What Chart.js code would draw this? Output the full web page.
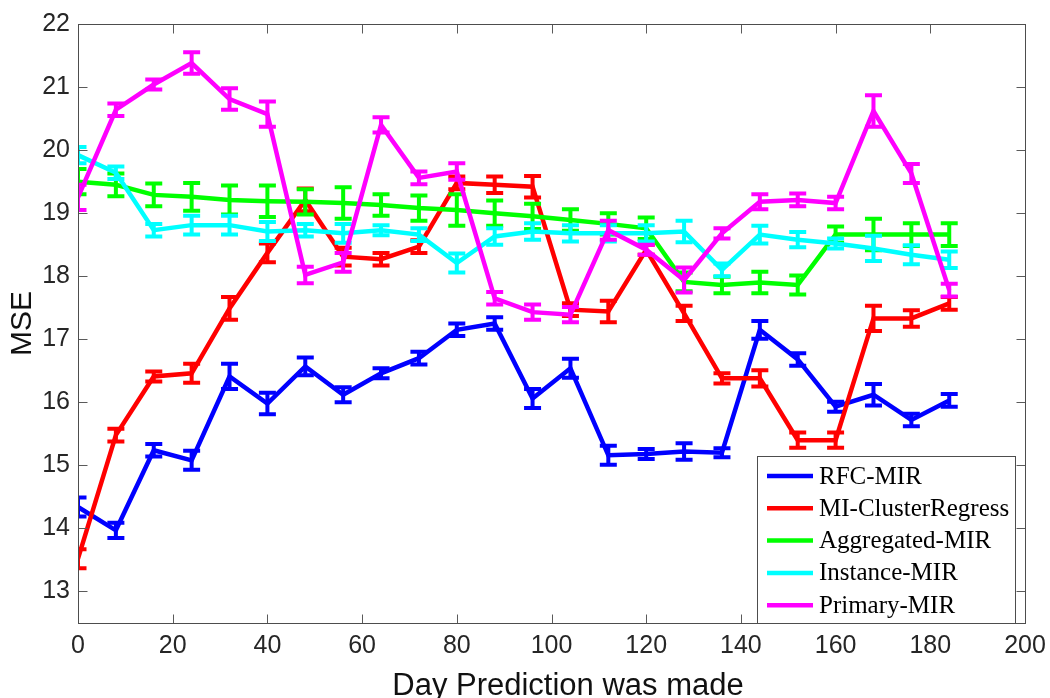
<!DOCTYPE html>
<html>
<head>
<meta charset="utf-8">
<script src="https://cdn.jsdelivr.net/npm/chart.js@4.4.0/dist/chart.umd.min.js"></script>
<style>
html, body { margin: 0; padding: 0; background: #fff; }
</style>
</head>
<body>
<canvas id="grafico" width="1050" height="698"></canvas>
<script>
// dias e valores
var dias = [0, 8, 16, 24, 32, 40, 48, 56, 64, 72, 80, 88, 96, 104, 112, 120, 128, 136, 144, 152, 160, 168, 176, 184]

var rfcMir = [14.34, 13.97, 15.24, 15.08, 16.41, 15.98, 16.57, 16.12, 16.46, 16.70, 17.15, 17.25, 16.06, 16.54, 15.16, 15.18, 15.22, 15.20, 17.15, 16.68, 15.93, 16.12, 15.72, 16.03]
var rfcErr = [0.15, 0.12, 0.10, 0.15, 0.20, 0.17, 0.14, 0.12, 0.08, 0.10, 0.10, 0.10, 0.15, 0.15, 0.15, 0.08, 0.13, 0.07, 0.14, 0.10, 0.08, 0.17, 0.10, 0.10]

var clusterRegress = [13.52, 15.48, 16.41, 16.46, 17.49, 18.37, 19.21, 18.31, 18.27, 18.47, 19.48, 19.45, 19.42, 17.47, 17.44, 18.42, 17.41, 16.38, 16.38, 15.40, 15.40, 17.33, 17.33, 17.57]
var clusterErr = [0.15, 0.10, 0.08, 0.15, 0.18, 0.15, 0.18, 0.14, 0.10, 0.10, 0.10, 0.13, 0.17, 0.10, 0.17, 0.08, 0.12, 0.08, 0.13, 0.12, 0.12, 0.20, 0.13, 0.10]

var aggregated = [19.50, 19.45, 19.29, 19.26, 19.21, 19.19, 19.18, 19.16, 19.13, 19.08, 19.05, 19.00, 18.95, 18.89, 18.83, 18.76, 17.91, 17.86, 17.90, 17.86, 18.66, 18.66, 18.66, 18.66]
var aggErr = [0.20, 0.18, 0.18, 0.22, 0.23, 0.25, 0.20, 0.25, 0.17, 0.20, 0.25, 0.20, 0.20, 0.17, 0.17, 0.17, 0.15, 0.13, 0.17, 0.15, 0.13, 0.25, 0.18, 0.18]

var instance = [19.92, 19.64, 18.73, 18.81, 18.81, 18.71, 18.73, 18.68, 18.73, 18.66, 18.21, 18.63, 18.71, 18.68, 18.68, 18.68, 18.71, 18.10, 18.66, 18.58, 18.52, 18.44, 18.34, 18.26]
var instErr = [0.13, 0.10, 0.10, 0.15, 0.15, 0.15, 0.10, 0.15, 0.08, 0.10, 0.15, 0.13, 0.13, 0.13, 0.13, 0.13, 0.17, 0.10, 0.14, 0.12, 0.08, 0.20, 0.15, 0.13]

var primary = [19.25, 20.64, 21.04, 21.38, 20.81, 20.57, 18.02, 18.22, 20.40, 19.56, 19.66, 17.65, 17.43, 17.39, 18.73, 18.42, 17.94, 18.68, 19.18, 19.21, 19.16, 20.62, 19.63, 17.78]
var primErr = [0.20, 0.10, 0.08, 0.17, 0.17, 0.20, 0.13, 0.15, 0.12, 0.10, 0.13, 0.10, 0.12, 0.12, 0.15, 0.08, 0.20, 0.08, 0.12, 0.10, 0.10, 0.25, 0.15, 0.10]

var nomes = ['RFC-MIR', 'MI-ClusterRegress', 'Aggregated-MIR', 'Instance-MIR', 'Primary-MIR']
var cores = ['#0000ff', '#ff0000', '#00ff00', '#00ffff', '#ff00ff']

var xTicks = [0, 20, 40, 60, 80, 100, 120, 140, 160, 180, 200]
var yTicks = [13, 14, 15, 16, 17, 18, 19, 20, 21, 22]

var tituloX = 'Day Prediction was made'
var tituloY = 'MSE'

var valores = [rfcMir, clusterRegress, aggregated, instance, primary]
var erros = [rfcErr, clusterErr, aggErr, instErr, primErr]

var corTexto = '#262626'
var fonteSans = '"Liberation Sans", Arial, sans-serif'

function pontos(serie) {
  return serie.map(function (v, i) { return { x: dias[i], y: v } })
}

var datasets = valores.map(function (serie, k) {
  return {
    label: nomes[k],
    data: pontos(serie),
    borderColor: cores[k],
    backgroundColor: cores[k],
    borderWidth: 4.5,
    pointRadius: 0,
    tension: 0,
    order: 5 - k,
    erro: erros[k]
  }
})

// barras de erro desenhadas logo depois de cada serie
var barrasErro = {
  id: 'barrasErro',
  afterDatasetDraw: function (chart, args) {
    var ds = chart.data.datasets[args.index]
    var ctx = chart.ctx
    var sx = chart.scales.x, sy = chart.scales.y
    var area = chart.chartArea
    ctx.save()
    ctx.beginPath()
    ctx.rect(area.left, area.top, area.right - area.left, area.bottom - area.top)
    ctx.clip()
    ctx.strokeStyle = ds.borderColor
    ctx.lineWidth = 4
    ctx.lineCap = 'butt'
    ds.data.forEach(function (p, i) {
      var px = sx.getPixelForValue(p.x)
      var y1 = sy.getPixelForValue(p.y - ds.erro[i])
      var y2 = sy.getPixelForValue(p.y + ds.erro[i])
      var w = 8.5
      ctx.beginPath()
      ctx.moveTo(px, y1); ctx.lineTo(px, y2)
      ctx.moveTo(px - w, y1); ctx.lineTo(px + w, y1)
      ctx.moveTo(px - w, y2); ctx.lineTo(px + w, y2)
      ctx.stroke()
    })
    ctx.restore()
  }
}

// caixa do eixo com marcas para dentro
var moldura = {
  id: 'moldura',
  afterDatasetsDraw: function (chart) {
    var ctx = chart.ctx
    var a = chart.chartArea
    var sx = chart.scales.x, sy = chart.scales.y
    var l = Math.round(a.left) + 0.5, r = Math.round(a.right) + 0.5
    var t = Math.round(a.top) + 0.5, b = Math.round(a.bottom) + 0.5
    ctx.save()
    ctx.strokeStyle = '#5a5a5a'
    ctx.lineWidth = 1
    ctx.beginPath()
    xTicks.forEach(function (v) {
      var px = Math.round(sx.getPixelForValue(v)) + 0.5
      ctx.moveTo(px, b); ctx.lineTo(px, b - 9)
      ctx.moveTo(px, t); ctx.lineTo(px, t + 9)
    })
    yTicks.forEach(function (v) {
      var py = Math.round(sy.getPixelForValue(v)) + 0.5
      ctx.moveTo(l, py); ctx.lineTo(l + 9, py)
      ctx.moveTo(r, py); ctx.lineTo(r - 9, py)
    })
    ctx.stroke()
    ctx.strokeStyle = '#4d4d4d'
    ctx.strokeRect(l, t, r - l, b - t)
    ctx.restore()
  }
}

// legenda dentro do grafico e titulo do eixo x
var legenda = {
  id: 'legenda',
  afterDraw: function (chart) {
    var ctx = chart.ctx
    var bx = 757.5, by = 456.5, bw = 258, bh = 167
    ctx.save()
    ctx.fillStyle = '#ffffff'
    ctx.fillRect(bx, by, bw, bh)
    ctx.strokeStyle = '#4d4d4d'
    ctx.lineWidth = 1
    ctx.strokeRect(bx, by, bw, bh)
    ctx.font = '25px "Liberation Serif", "Times New Roman", serif'
    ctx.textBaseline = 'middle'
    ctx.textAlign = 'left'
    nomes.forEach(function (n, k) {
      var yy = 476 + k * 32.3
      ctx.strokeStyle = cores[k]
      ctx.lineWidth = 4.5
      ctx.beginPath()
      ctx.moveTo(767, yy); ctx.lineTo(813, yy)
      ctx.stroke()
      ctx.fillStyle = '#000000'
      ctx.fillText(n, 819, yy + 1)
    })

    ctx.font = '31px ' + fonteSans
    ctx.fillStyle = '#111111'
    ctx.textAlign = 'center'
    ctx.textBaseline = 'alphabetic'
    ctx.fillText(tituloX, 568, 695)
    ctx.restore()
  }
}

function semPadding(s) {
  s.paddingLeft = 0
  s.paddingRight = 0
  s.paddingTop = 0
  s.paddingBottom = 0
}

var ctx = document.getElementById('grafico')

new Chart(ctx, {
  type: 'line',
  data: { datasets: datasets },
  plugins: [barrasErro, moldura, legenda],
  options: {
    responsive: false,
    animation: false,
    devicePixelRatio: 1,
    layout: { padding: { left: 0, top: 24, right: 25, bottom: 0 } },
    plugins: {
      legend: { display: false },
      tooltip: { enabled: false }
    },
    scales: {
      x: {
        type: 'linear',
        min: 0,
        max: 200,
        afterBuildTicks: function (s) { s.ticks = xTicks.map(function (v) { return { value: v } }) },
        afterFit: function (s) { s.height = 75; semPadding(s) },
        grid: { display: false, drawTicks: false },
        border: { display: false },
        ticks: {
          padding: 8,
          color: corTexto,
          font: { family: fonteSans, size: 25 }
        },
        title: { display: false }
      },
      y: {
        type: 'linear',
        min: 12.5,
        max: 22,
        afterBuildTicks: function (s) { s.ticks = yTicks.map(function (v) { return { value: v } }) },
        afterFit: function (s) { s.width = 78; semPadding(s) },
        grid: { display: false, drawTicks: false },
        border: { display: false },
        ticks: {
          padding: 8,
          color: corTexto,
          font: { family: fonteSans, size: 25 }
        },
        title: {
          display: true,
          text: tituloY,
          color: '#111111',
          padding: { top: 8, bottom: 0 },
          font: { family: fonteSans, size: 30, lineHeight: 1 }
        }
      }
    }
  }
})
</script>
</body>
</html>
